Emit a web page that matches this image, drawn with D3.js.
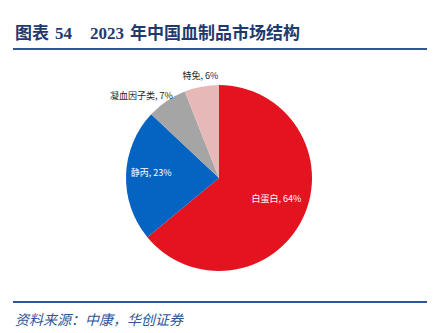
<!DOCTYPE html>
<html><head><meta charset="utf-8">
<script src="https://cdn.jsdelivr.net/npm/d3@7"></script>
<style>body{margin:0;background:#fff;}svg{display:block;}</style>
</head><body>
<script>
const categories = ["白蛋白", "静丙", "凝血因子类", "特免"];
const values = [64, 23, 7, 6];
const colors = ["#E3141F", "#0563C1", "#A5A5A5", "#E6B9B8"];
const titleParts = ["图表", "54", "2023", "年中国血制品市场结构"];
const source = "资料来源：中康，华创证券";

const W = 447, H = 333;
const svg = d3.select("body").append("svg").attr("width", W).attr("height", H);

const titleX = [15, 55, 90, 130];
const tt = svg.append("text").attr("y", 39)
  .attr("font-family", "'Liberation Serif','Noto Sans CJK SC',serif")
  .attr("font-weight", "bold").attr("font-size", 17).attr("fill", "#1F3A6E");
titleParts.forEach((t, i) => tt.append("tspan").attr("x", titleX[i]).text(t));

svg.append("line").attr("x1", 13).attr("x2", 427).attr("y1", 49).attr("y2", 49)
  .attr("stroke", "#2F5597").attr("stroke-width", 2);
svg.append("line").attr("x1", 13).attr("x2", 427).attr("y1", 302).attr("y2", 302)
  .attr("stroke", "#2F5597").attr("stroke-width", 2);
svg.append("text").attr("x", 15).attr("y", 325)
  .attr("font-family", "'Noto Sans CJK SC',sans-serif").attr("font-style", "italic")
  .attr("font-size", 14).attr("fill", "#2F5597")
  .text(source);

const cx = 219, cy = 178, r = 93;
const pie = d3.pie().sort(null).value(d => d.v);
const data = pie(categories.map((c, i) => ({c, v: values[i], col: colors[i]})));
const arc = d3.arc().innerRadius(0).outerRadius(r);
const g = svg.append("g").attr("transform", `translate(${cx},${cy})`);
g.selectAll("path").data(data).enter().append("path")
  .attr("d", arc).attr("fill", d => d.data.col);

const fontF = "'Noto Sans CJK SC','Liberation Sans',sans-serif";
const labelArcIn = d3.arc().innerRadius(r * 0.6).outerRadius(r * 0.6);
const labelArcOut = d3.arc().innerRadius(r * 1.12).outerRadius(r * 1.12);
const nudges = [[7, -3], [-12, -3], [-19, 4], [1, 0]];
data.forEach((d, i) => {
  const txt = `${d.data.c}, ${d.data.v}%`;
  let p = i < 2 ? labelArcIn.centroid(d) : labelArcOut.centroid(d);
  const fill = i < 2 ? "#FFFFFF" : "#262626";
  p = [p[0] + nudges[i][0], p[1] + nudges[i][1]];
  g.append("text").attr("x", p[0]).attr("y", p[1]).attr("dy", "0.35em")
    .attr("text-anchor", "middle").attr("font-family", fontF).attr("font-size", 9)
    .attr("fill", fill).text(txt);
});
</script>
</body></html>
